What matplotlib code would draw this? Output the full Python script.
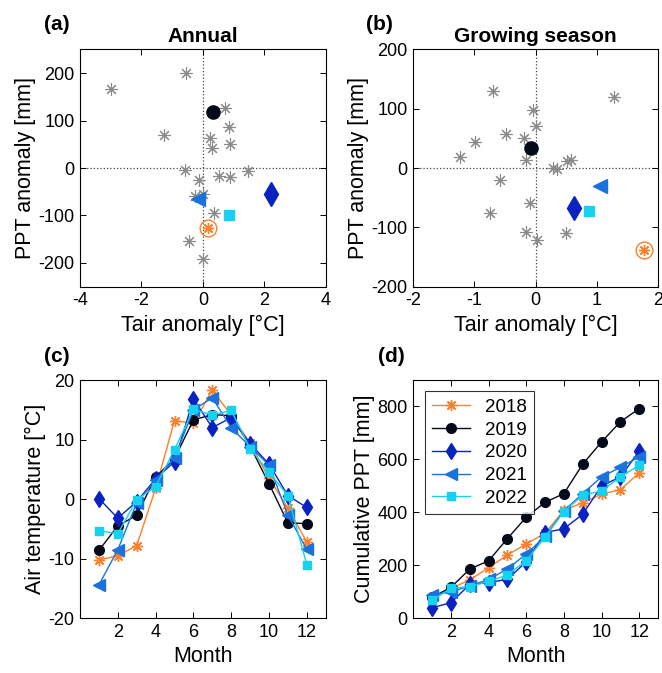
import numpy as np
import matplotlib
matplotlib.use("Agg")
import matplotlib.pyplot as plt

plt.rcParams['font.family'] = ['Liberation Sans', 'DejaVu Sans']
plt.rcParams['font.size'] = 13
plt.rcParams['axes.unicode_minus'] = False
plt.rcParams['xtick.direction'] = 'in'
plt.rcParams['ytick.direction'] = 'in'
plt.rcParams['xtick.top'] = True
plt.rcParams['ytick.right'] = True
plt.rcParams['axes.linewidth'] = 0.8

# ---- panel (a): annual anomalies, earlier years (gray)
ann_x = [-3.0, -0.56, 0.72, 0.85, -1.25, 0.22, 0.88, 0.29, -0.59, 1.46,
         0.52, 0.89, -0.14, -0.25, 0.02, 0.36, -0.44, 0.0]
ann_y = [166, 200, 127, 86, 70, 63, 50, 43, -4, -7,
         -17, -20, -26, -58, -55, -95, -153, -192]
# ---- panel (b): growing season anomalies, earlier years (gray)
gs_x = [-0.69, 1.28, -0.05, 0.0, -0.49, -0.19, -0.99, -1.24, -0.15, 0.57,
        0.52, 0.28, 0.35, -0.58, -0.10, -0.75, -0.15, 0.50, 0.03]
gs_y = [130, 120, 97, 70, 57, 51, 43, 18, 14, 14,
        11, 0, -1, -21, -59, -76, -107, -109, -122]

years = ['2018', '2019', '2020', '2021', '2022']
# anomalies of the recent years (Tair, PPT)
ann_recent_x = [0.16, 0.33, 2.22, -0.17, 0.86]
ann_recent_y = [-127, 117, -54, -65, -99]
gs_recent_x = [1.77, -0.07, 0.62, 1.05, 0.88]
gs_recent_y = [-138, 33, -68, -30, -72]

months = np.arange(1, 13)
tair = {
    '2018': [-10.2, -9.5, -7.8, 1.8, 13.2, 12.7, 18.3, 14.1, 9.4, 3.5, -1.5, -7.2],
    '2019': [-8.6, -4.5, -2.7, 3.7, 6.8, 13.3, 14.2, 14.0, 8.9, 2.6, -4.0, -4.1],
    '2020': [0.1, -3.2, -0.4, 3.4, 6.3, 16.8, 12.0, 13.7, 9.3, 5.9, 0.6, -1.4],
    '2021': [-14.4, -8.5, -0.6, 3.2, 6.9, 15.0, 17.0, 12.0, 8.8, 5.7, -2.7, -8.4],
    '2022': [-5.3, -5.8, -0.1, 2.1, 8.3, 15.1, 14.1, 14.9, 8.5, 4.5, 0.6, -11.0],
}
cum_ppt = {
    '2018': [72, 113, 145, 191, 239, 281, 321, 409, 436, 469, 486, 549],
    '2019': [79, 117, 186, 217, 301, 382, 438, 471, 582, 666, 742, 792],
    '2020': [40, 59, 128, 135, 147, 214, 324, 338, 393, 500, 534, 631],
    '2021': [88, 100, 122, 147, 186, 243, 309, 406, 471, 534, 570, 610],
    '2022': [68, 113, 120, 139, 164, 218, 306, 403, 465, 481, 534, 578],
}

colors = {'2018': '#FF7F2A', '2019': '#050A1A', '2020': '#0A22C0',
          '2021': '#1A72DC', '2022': '#14D2F0'}
markers = {'2018': (8, 2, 0), '2019': 'o', '2020': 'd', '2021': '<', '2022': 's'}
msize = {'2018': 8, '2019': 7, '2020': 8, '2021': 8, '2022': 6}

fig = plt.figure(figsize=(6.62, 6.73), dpi=100)
W, H = 662.0, 673.0


def add_ax(l, t, r, b):
    return fig.add_axes([l / W, 1 - b / H, (r - l) / W, (b - t) / H])


ax_a = add_ax(80, 49.3, 325.7, 286.7)
ax_b = add_ax(413.3, 49.3, 658, 286.7)
ax_c = add_ax(80, 380, 325.7, 618.3)
ax_d = add_ax(413.3, 380, 658, 618.3)

star = (8, 2, 0)
gray = '#8a8a8a'


def scatter_panel(ax, gx, gy, rx, ry):
    ax.axhline(0, color='#444444', ls=':', lw=0.9, zorder=1)
    ax.axvline(0, color='#444444', ls=':', lw=0.9, zorder=1)
    ax.plot(gx, gy, ls='none', marker=star, ms=9, mec=gray, mew=0.8, zorder=2)
    for i, yr in enumerate(years):
        c = colors[yr]
        if yr == '2018':
            ax.plot(rx[i], ry[i], ls='none', marker='o', ms=12, mfc='none',
                    mec=c, mew=1.0, zorder=3)
            ax.plot(rx[i], ry[i], ls='none', marker=star, ms=8, mec=c,
                    mew=1.0, zorder=3)
        else:
            ms = {'2019': 9.5, '2020': 12, '2021': 10, '2022': 7}[yr]
            ax.plot(rx[i], ry[i], ls='none', marker=markers[yr], ms=ms,
                    mfc=c, mec=c, zorder=3)
    ax.set_xlabel('Tair anomaly [°C]', fontsize=15.5, labelpad=4)
    ax.set_ylabel('PPT anomaly [mm]', fontsize=15.5, labelpad=2)


scatter_panel(ax_a, ann_x, ann_y, ann_recent_x, ann_recent_y)
ax_a.set_xlim(-4, 4)
ax_a.set_ylim(-250, 250)
ax_a.set_xticks([-4, -2, 0, 2, 4])
ax_a.set_yticks([-200, -100, 0, 100, 200])
ax_a.set_title('Annual', fontsize=15, fontweight='bold', pad=5)

scatter_panel(ax_b, gs_x, gs_y, gs_recent_x, gs_recent_y)
ax_b.set_xlim(-2, 2)
ax_b.set_ylim(-200, 200)
ax_b.set_xticks([-2, -1, 0, 1, 2])
ax_b.set_yticks([-200, -100, 0, 100, 200])
ax_b.set_title('Growing season', fontsize=15, fontweight='bold', pad=5)

for yr in years:
    c = colors[yr]
    kw = dict(color=c, marker=markers[yr], ms=msize[yr], mfc=c, mec=c,
              lw=1.0, label=yr)
    ax_c.plot(months, tair[yr], **kw)
    ax_d.plot(months, cum_ppt[yr], **kw)

ax_c.set_xlim(0, 13)
ax_c.set_ylim(-20, 20)
ax_c.set_xticks([2, 4, 6, 8, 10, 12])
ax_c.set_yticks([-20, -10, 0, 10, 20])
ax_c.set_xlabel('Month', fontsize=15.5)
ax_c.set_ylabel('Air temperature [°C]', fontsize=15.5, labelpad=2)

ax_d.set_xlim(0, 13)
ax_d.set_ylim(0, 900)
ax_d.set_xticks([2, 4, 6, 8, 10, 12])
ax_d.set_yticks([0, 200, 400, 600, 800])
ax_d.set_xlabel('Month', fontsize=15.5)
ax_d.set_ylabel('Cumulative PPT [mm]', fontsize=15.5, labelpad=2)
leg = ax_d.legend(loc='upper left', fontsize=13.5, frameon=True, fancybox=False,
                  edgecolor='k', borderaxespad=0.6, handlelength=2.0,
                  labelspacing=0.3, borderpad=0.4)
leg.get_frame().set_linewidth(0.8)

for ax in (ax_a, ax_b, ax_c, ax_d):
    ax.tick_params(labelsize=13, length=4, width=0.7, pad=4)

for lab, x, y in [('(a)', 57, 25), ('(b)', 379, 25), ('(c)', 57, 357), ('(d)', 391, 357)]:
    fig.text(x / W, 1 - y / H, lab, fontsize=15, fontweight='bold',
             ha='center', va='center')

fig.savefig('out.png', dpi=100)
